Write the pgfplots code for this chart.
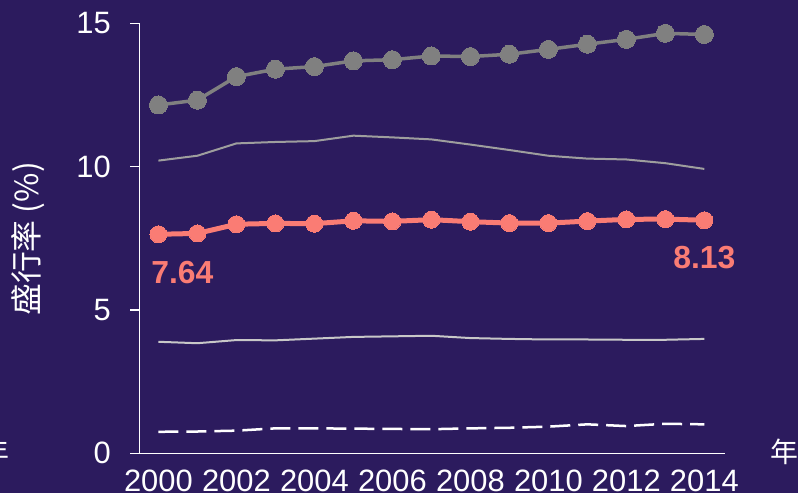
\documentclass[border=0pt]{standalone}
\usepackage{fontspec}
\setmainfont{Liberation Sans}
\newfontfamily\cjk{Noto Sans CJK SC}
\usepackage{pgfplots}
\pgfplotsset{compat=1.18}
\definecolor{bg}{RGB}{44,27,94}
\definecolor{salmon}{RGB}{250,124,116}
\definecolor{grayA}{RGB}{128,128,128}
\definecolor{grayB}{RGB}{158,158,158}
\definecolor{grayC}{RGB}{200,200,200}
\begin{document}
\begin{tikzpicture}
\fill[bg] (0,0) rectangle (798bp,493bp);
\useasboundingbox (0,0) rectangle (798bp,493bp);
\begin{axis}[at={(139.3bp,39.7bp)}, anchor=south west, scale only axis,
  width=585.7bp, height=430bp,
  xmin=1999.51, xmax=2014.53, ymin=0, ymax=15,
  axis lines=left, axis line style={white, line width=1.5bp, -},
  xtick={2000,2002,...,2014}, ytick={0,5,10,15},
  x tick style={draw=none}, y tick style={white, line width=1.5bp},
  tick align=outside, major tick length=9bp,
  ticklabel style={white, font=\fontsize{31}{31}\selectfont},
  /pgf/number format/assume math mode=true,
  xticklabel style={/pgf/number format/1000 sep={}, yshift=-4bp},
  yticklabel style={xshift=-16bp},
  clip=false,
]
% white dashed
\addplot[white, line width=2.5bp, dash pattern=on 20bp off 8bp, no markers] coordinates {
(2000,0.75)(2001,0.76)(2002,0.79)(2003,0.87)(2004,0.87)(2005,0.86)(2006,0.85)(2007,0.84)
(2008,0.87)(2009,0.89)(2010,0.93)(2011,1.01)(2012,0.95)(2013,1.03)(2014,1.01)};
% light gray ~4
\addplot[grayC, line width=2bp, no markers] coordinates {
(2000,3.89)(2001,3.84)(2002,3.95)(2003,3.94)(2004,4.00)(2005,4.06)(2006,4.08)(2007,4.10)
(2008,4.02)(2009,3.99)(2010,3.97)(2011,3.97)(2012,3.96)(2013,3.96)(2014,3.99)};
% gray ~10-11
\addplot[grayB, line width=2bp, no markers] coordinates {
(2000,10.21)(2001,10.38)(2002,10.81)(2003,10.86)(2004,10.89)(2005,11.08)(2006,11.02)(2007,10.95)
(2008,10.77)(2009,10.58)(2010,10.38)(2011,10.28)(2012,10.25)(2013,10.12)(2014,9.92)};
% gray with markers
\addplot[grayA, line width=3.5bp, mark=*, mark size=9bp, mark options={fill=grayA, draw=grayA, line width=0pt}] coordinates {
(2000,12.15)(2001,12.32)(2002,13.14)(2003,13.40)(2004,13.49)(2005,13.69)(2006,13.73)(2007,13.86)
(2008,13.84)(2009,13.92)(2010,14.09)(2011,14.27)(2012,14.44)(2013,14.65)(2014,14.61)};
% salmon
\addplot[salmon, line width=5bp, mark=*, mark size=8.5bp, mark options={fill=salmon, draw=salmon, line width=0pt}] coordinates {
(2000,7.64)(2001,7.67)(2002,7.99)(2003,8.02)(2004,8.01)(2005,8.11)(2006,8.09)(2007,8.15)
(2008,8.08)(2009,8.03)(2010,8.03)(2011,8.10)(2012,8.16)(2013,8.17)(2014,8.13)};
\node[salmon, font=\fontsize{32}{32}\selectfont\bfseries] at ([xshift=24bp,yshift=-38bp]axis cs:2000,7.64) {7.64};
\node[salmon, font=\fontsize{32}{32}\selectfont\bfseries] at ([yshift=-37bp]axis cs:2014,8.13) {8.13};
\end{axis}
\node[white, rotate=90, font=\cjk\fontsize{32}{32}\selectfont] at (28bp,254bp) {盛行率 (\%)};
\node[white, font=\cjk\fontsize{28}{28}\selectfont] at (784bp,41bp) {年};
\node[white, font=\cjk\fontsize{28}{28}\selectfont] at (-5bp,41bp) {年};
\end{tikzpicture}
\end{document}
